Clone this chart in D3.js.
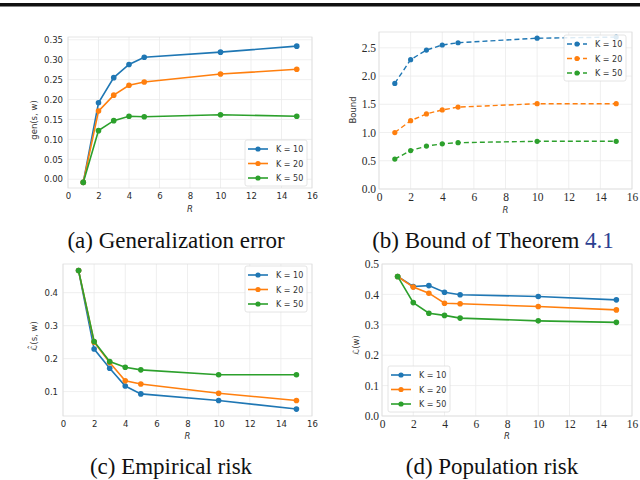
<!DOCTYPE html>
<html>
<head>
<meta charset="utf-8">
<script src="https://cdn.jsdelivr.net/npm/d3@7"></script>
<style>
  body { margin:0; background:#fff; }
  svg { display:block; }
  .grid line { stroke:#ebebeb; stroke-width:0.8; }
  .caption { font-family:"Liberation Serif", serif; font-size:23px; fill:#111; }
</style>
</head>
<body>
<svg id="viz-container" width="640" height="480"></svg>
<script>
// data
var R = [1, 2, 3, 4, 5, 10, 15];
var K_LABELS = ["K = 10", "K = 20", "K = 50"];
var COLORS = ["#1f77b4", "#ff7f0e", "#2ca02c"];

var genK10 = [-0.008, 0.192, 0.255, 0.288, 0.306, 0.319, 0.334];
var genK20 = [-0.008, 0.171, 0.211, 0.236, 0.244, 0.264, 0.276];
var genK50 = [-0.008, 0.122, 0.147, 0.158, 0.157, 0.162, 0.158];

var boundK10 = [1.87, 2.29, 2.46, 2.55, 2.59, 2.67, 2.69];
var boundK20 = [1.00, 1.21, 1.33, 1.40, 1.45, 1.51, 1.51];
var boundK50 = [0.53, 0.68, 0.76, 0.80, 0.82, 0.845, 0.845];

var empK10 = [0.467, 0.229, 0.171, 0.117, 0.093, 0.073, 0.047];
var empK20 = [0.467, 0.250, 0.188, 0.133, 0.123, 0.095, 0.073];
var empK50 = [0.467, 0.252, 0.191, 0.174, 0.166, 0.151, 0.151];

var popK10 = [0.459, 0.426, 0.429, 0.407, 0.399, 0.393, 0.382];
var popK20 = [0.459, 0.424, 0.404, 0.371, 0.369, 0.360, 0.349];
var popK50 = [0.459, 0.373, 0.338, 0.331, 0.322, 0.313, 0.308];

var xTicks = [0, 2, 4, 6, 8, 10, 12, 14, 16];
var genTicks = [0, 0.05, 0.10, 0.15, 0.20, 0.25, 0.30, 0.35];
var boundTicks = [0, 0.5, 1.0, 1.5, 2.0, 2.5];
var empTicks = [0.1, 0.2, 0.3, 0.4];
var popTicks = [0, 0.1, 0.2, 0.3, 0.4, 0.5];

var captions = ["(a) Generalization error", "(b) Bound of Theorem ", "(c) Empirical risk", "(d) Population risk"];

var svg = d3.select("#viz-container");

// rule at the very top (bottom of the page above)
svg.append("rect")
    .attr("x", 0).attr("y", 3)
    .attr("width", 640).attr("height", 3.5)
    .attr("fill", "#111");

function drawPanel(p) {
  var x = d3.scaleLinear().domain([0, 16]).range([p.left, p.right]);
  var y = d3.scaleLinear().domain(p.ydom).range([p.bottom, p.top]);
  var g = svg.append("g");

  // grid
  var grid = g.append("g").classed("grid", true);
  grid.selectAll(".gx").data(xTicks).enter().append("line")
      .attr("x1", function(d){ return x(d); }).attr("x2", function(d){ return x(d); })
      .attr("y1", p.top).attr("y2", p.bottom);
  grid.selectAll(".gy").data(p.yticks).enter().append("line")
      .attr("x1", p.left).attr("x2", p.right)
      .attr("y1", function(d){ return y(d); }).attr("y2", function(d){ return y(d); });

  g.append("rect")
      .attr("x", p.left).attr("y", p.top)
      .attr("width", p.right - p.left).attr("height", p.bottom - p.top)
      .attr("fill", "none").attr("stroke", "#dedede").attr("stroke-width", 0.8);

  // axes via d3 axis, then strip the domain/tick lines
  var xAxis = g.append("g")
      .attr("transform", "translate(0," + p.bottom + ")")
      .call(d3.axisBottom(x).tickValues(xTicks).tickSize(0).tickPadding(p.xpad).tickFormat(d3.format("d")));
  var yAxis = g.append("g")
      .attr("transform", "translate(" + p.left + ",0)")
      .call(d3.axisLeft(y).tickValues(p.yticks).tickSize(0).tickPadding(p.ypad).tickFormat(d3.format(p.yfmt)));
  [xAxis, yAxis].forEach(function(a){
    a.select(".domain").remove();
    a.selectAll("text")
      .attr("fill", "#2a2a2a")
      .style("font-family", p.tickFont)
      .style("font-size", p.tickSize + "px");
  });

  // lines
  var line = d3.line()
      .x(function(d, i){ return x(R[i]); })
      .y(function(d){ return y(d); });
  p.series.forEach(function(s, k){
    g.append("path")
        .datum(s)
        .attr("d", line)
        .attr("fill", "none")
        .attr("stroke", COLORS[k])
        .attr("stroke-width", p.dashed ? 1.4 : 1.6)
        .attr("stroke-dasharray", p.dashed ? "5,3" : null);
    g.selectAll(".m" + k).data(s).enter().append("circle")
        .attr("cx", function(d, i){ return x(R[i]); })
        .attr("cy", function(d){ return y(d); })
        .attr("r", p.dashed ? 2.6 : 2.8)
        .attr("fill", COLORS[k]);
  });

  // axis labels
  g.append("text")
      .attr("x", (p.left + p.right) / 2).attr("y", p.bottom + p.xlabOff)
      .attr("text-anchor", "middle")
      .style("font-family", "DejaVu Sans").style("font-style", "italic")
      .style("font-size", "8.5px").attr("fill", "#333")
      .text("R");
  g.append("text")
      .attr("transform", "translate(" + p.ylabX + "," + p.ylabY + ") rotate(-90)")
      .attr("text-anchor", "middle")
      .style("font-family", "DejaVu Sans")
      .style("font-size", "8.5px").attr("fill", "#333")
      .text(p.ylabel);

  // legend
  var lg = g.append("g").attr("transform", "translate(" + p.leg[0] + "," + p.leg[1] + ")");
  lg.append("rect")
      .attr("width", 62).attr("height", 46).attr("rx", 2)
      .attr("fill", "#fff").attr("fill-opacity", 0.85)
      .attr("stroke", "#dddddd").attr("stroke-width", 0.8);
  K_LABELS.forEach(function(lab, k){
    var ly = 9 + k * 14.5;
    lg.append("line")
        .attr("x1", 3).attr("x2", 23).attr("y1", ly).attr("y2", ly)
        .attr("stroke", COLORS[k]).attr("stroke-width", 1.6)
        .attr("stroke-dasharray", p.dashed ? "5,3" : null);
    lg.append("circle").attr("cx", 13).attr("cy", ly).attr("r", 2.6).attr("fill", COLORS[k]);
    lg.append("text")
        .attr("x", 31).attr("y", ly + 3)
        .style("font-family", "DejaVu Sans").style("font-size", "8px").attr("fill", "#333")
        .text(lab);
  });

  // caption
  var cap = svg.append("text").classed("caption", true)
      .attr("x", p.capX).attr("y", p.capY)
      .attr("text-anchor", "middle")
      .text(p.caption);
  if (p.capRef) {
    cap.append("tspan").attr("fill", "#2b3f91").text(p.capRef);
  }
}

drawPanel({
  left: 68, right: 312, top: 37, bottom: 188, ydom: [-0.022, 0.357],
  yticks: genTicks, yfmt: ".2f", series: [genK10, genK20, genK50], dashed: false,
  tickFont: "DejaVu Sans", tickSize: 8.5, xpad: 5, ypad: 5,
  xlabOff: 24, ylabX: 37, ylabY: 120, ylabel: "gen(s, w)",
  leg: [245, 140], caption: captions[0], capX: 176, capY: 248
});

drawPanel({
  left: 379, right: 632, top: 32, bottom: 189, ydom: [0, 2.78],
  yticks: boundTicks, yfmt: ".1f", series: [boundK10, boundK20, boundK50], dashed: true,
  tickFont: "Liberation Serif", tickSize: 11.5, xpad: 4, ypad: 3,
  xlabOff: 24, ylabX: 356, ylabY: 110, ylabel: "Bound",
  leg: [564, 35], caption: captions[1], capRef: "4.1", capX: 493, capY: 248
});

drawPanel({
  left: 63, right: 312, top: 264, bottom: 416, ydom: [0.026, 0.487],
  yticks: empTicks, yfmt: ".1f", series: [empK10, empK20, empK50], dashed: false,
  tickFont: "DejaVu Sans", tickSize: 8.5, xpad: 5, ypad: 5,
  xlabOff: 23, ylabX: 37, ylabY: 336, ylabel: "\u2112\u0302(s, w)",
  leg: [245, 266], caption: captions[2], capX: 171, capY: 474
});

drawPanel({
  left: 382, right: 632, top: 264, bottom: 416, ydom: [0, 0.5],
  yticks: popTicks, yfmt: ".1f", series: [popK10, popK20, popK50], dashed: false,
  tickFont: "Liberation Serif", tickSize: 11.5, xpad: 4, ypad: 3,
  xlabOff: 23, ylabX: 359, ylabY: 345, ylabel: "\u2112(w)",
  leg: [388, 366], caption: captions[3], capX: 492, capY: 474
});
</script>
</body>
</html>
